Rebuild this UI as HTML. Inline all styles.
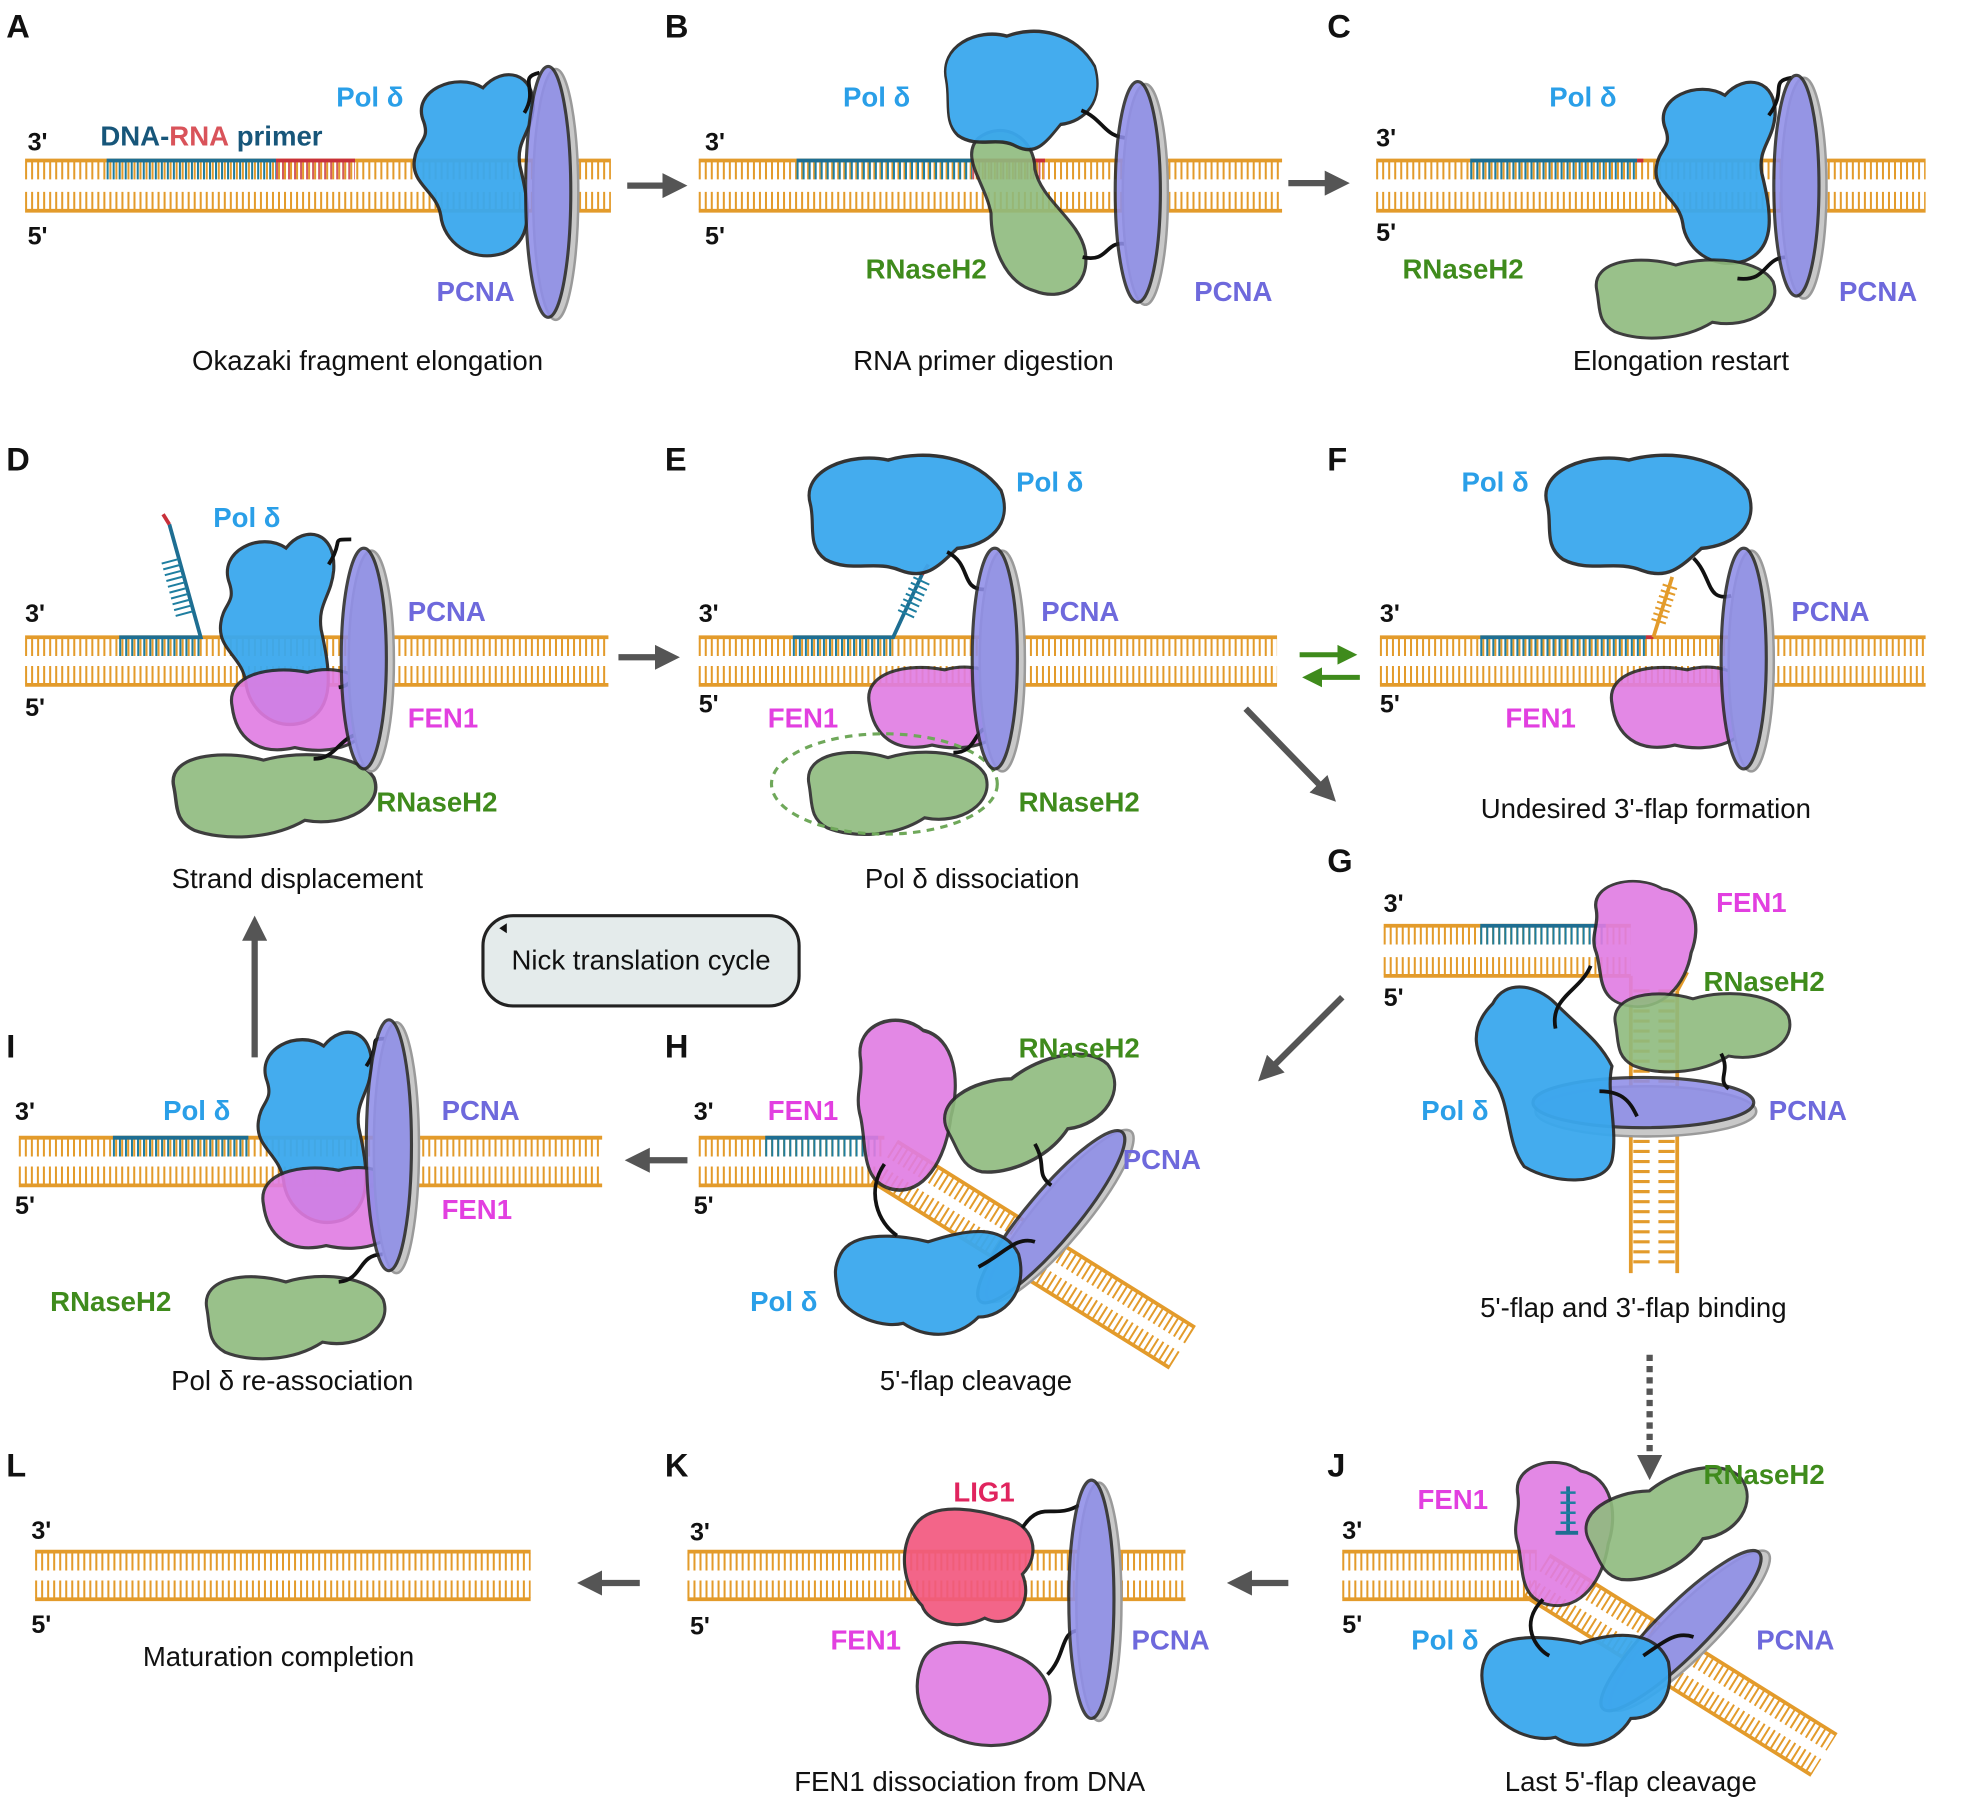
<!DOCTYPE html>
<html><head><meta charset="utf-8"><style>
html,body{margin:0;padding:0;background:#fff}
svg{display:block}
text{font-family:"Liberation Sans",Arial,sans-serif}
.L{font-weight:bold;font-size:26px;fill:#111}
.c{font-size:22px;fill:#111;text-anchor:middle}
.e{font-size:20px;font-weight:bold;fill:#111}
.pol{font-weight:bold;font-size:22px;fill:#2a9fe8}
.pc{font-weight:bold;font-size:22px;fill:#6e69dc}
.fen{font-weight:bold;font-size:22px;fill:#e23fe0}
.rn{font-weight:bold;font-size:22px;fill:#3f8b1c}
.s{stroke:#e39b2b;fill:none;stroke-width:3}
.t{stroke:#e39b2b;fill:none;stroke-width:14;stroke-dasharray:1.6 3.2}
.bs{stroke:#1e6e92;fill:none;stroke-width:3}
.bt{stroke:#1e7ea0;fill:none;stroke-width:14;stroke-dasharray:1.6 3.2}
.rs{stroke:#c8303a;fill:none;stroke-width:3}
.rt{stroke:#d45a5e;fill:none;stroke-width:14;stroke-dasharray:1.6 3.2}
.P{fill:#3aa8ee;stroke:#2a2a2a;stroke-width:2.5;opacity:.95}
.F{fill:#e07ce3;stroke:#2a2a2a;stroke-width:2.5;opacity:.9}
.G{fill:#8fbb7e;stroke:#2a2a2a;stroke-width:2.5;opacity:.9}
.K{fill:#8f8ee8;stroke:#2a2a2a;stroke-width:2.5;opacity:.88}
.KS{fill:#c8c8c8;stroke:#9a9a9a;stroke-width:2}
.tet{stroke:#111;stroke-width:3;fill:none}
.ar{stroke:#555;stroke-width:5;fill:none}
</style></head><body>
<svg width="1967" height="1805" viewBox="0 0 1568 1439" preserveAspectRatio="none" xmlns="http://www.w3.org/2000/svg">
<defs>
<marker id="ah" markerWidth="4" markerHeight="4" refX="2" refY="2" orient="auto" markerUnits="strokeWidth"><path d="M0,0 L4,2 L0,4Z" fill="#555"/></marker>
<marker id="ag" markerWidth="4" markerHeight="4" refX="2" refY="2" orient="auto" markerUnits="strokeWidth"><path d="M0,0 L4,2 L0,4Z" fill="#3f8b1c"/></marker>
<path id="polv" d="M15,45 C5,20 40,5 60,18 C75,0 100,5 98,35 C96,55 85,60 88,80 C95,110 100,140 75,150 C50,158 30,140 28,120 C25,100 5,95 8,75 C10,60 20,60 15,45Z"/>
<path id="polh" d="M8,40 C0,15 40,2 70,8 C100,0 140,5 160,30 C170,55 150,70 125,72 C110,85 100,95 80,88 C60,80 40,90 20,80 C5,70 12,55 8,40Z"/>
<path id="gr" d="M5,35 C0,10 40,5 70,14 C100,5 140,10 150,28 C158,50 130,68 100,62 C75,78 40,78 20,70 C5,62 8,50 5,35Z"/>
<path id="fe" d="M5,35 C0,10 35,2 65,8 C95,0 120,15 118,40 C115,65 85,75 55,68 C25,75 8,60 5,35Z"/>
<path id="fv" d="M10,30 C5,5 40,-5 60,10 C85,15 90,45 82,70 C78,100 60,125 35,120 C10,115 15,90 10,70 C5,55 12,45 10,30Z"/>
</defs>

<!-- ===== A ===== -->
<text class="L" x="5" y="30">A</text>
<path class="t" d="M20,136H487M20,160H487"/><path class="s" d="M20,128H487M20,168H487"/>
<path class="bt" d="M85,136H220"/><path class="bs" d="M85,128H220"/>
<path class="rt" d="M220,136H283"/><path class="rs" d="M220,128H283"/>
<text class="e" x="22" y="120">3'</text><text class="e" x="22" y="195">5'</text>
<text x="80" y="116" style="font-weight:bold;font-size:22px;fill:#17567a">DNA-<tspan fill="#d9535a">RNA</tspan> primer</text>
<use href="#polv" class="P" transform="translate(322,52) scale(1.05,1)"/>
<path class="tet" d="M418,90 C430,70 412,62 430,58"/>
<ellipse class="KS" cx="443" cy="155" rx="18" ry="100"/><ellipse class="K" cx="437" cy="153" rx="18" ry="100"/>
<text class="pol" x="268" y="85">Pol δ</text><text class="pc" x="348" y="240">PCNA</text>
<text class="c" x="293" y="295">Okazaki fragment elongation</text>
<path class="ar" d="M500,148H538" marker-end="url(#ah)"/>

<!-- ===== B ===== -->
<text class="L" x="530" y="30">B</text>
<path class="t" d="M557,136H1022M557,160H1022"/><path class="s" d="M557,128H1022M557,168H1022"/>
<path class="bt" d="M635,136H775"/><path class="bs" d="M635,128H775"/>
<path class="rt" d="M775,136H833"/><path class="rs" d="M775,128H833"/>
<text class="e" x="562" y="120">3'</text><text class="e" x="562" y="195">5'</text>
<path class="G" d="M780,110 C800,95 825,110 825,135 C830,160 860,175 865,200 C870,230 845,240 825,232 C800,225 790,195 790,170 C785,145 765,125 780,110Z"/>
<use href="#polh" class="P" transform="translate(748,20) scale(0.78,1.1)"/>
<path class="tet" d="M862,88 C880,95 880,110 900,110"/><path class="tet" d="M863,205 C885,210 880,190 900,195"/>
<ellipse class="KS" cx="913" cy="155" rx="18" ry="88"/><ellipse class="K" cx="907" cy="153" rx="18" ry="88"/>
<text class="pol" x="672" y="85">Pol δ</text><text class="rn" x="690" y="222">RNaseH2</text><text class="pc" x="952" y="240">PCNA</text>
<text class="c" x="784" y="295">RNA primer digestion</text>
<path class="ar" d="M1027,146H1066" marker-end="url(#ah)"/>

<!-- ===== C ===== -->
<text class="L" x="1058" y="30">C</text>
<path class="t" d="M1097,136H1535M1097,160H1535"/><path class="s" d="M1097,128H1535M1097,168H1535"/>
<path class="bt" d="M1172,136H1305"/><path class="bs" d="M1172,128H1305"/>
<path class="rs" d="M1305,128H1310"/>
<text class="e" x="1097" y="117">3'</text><text class="e" x="1097" y="192">5'</text>
<use href="#polv" class="P" transform="translate(1312,58) scale(1.05,1)"/>
<use href="#gr" class="G" transform="translate(1268,198) scale(0.97,0.95)"/>
<path class="tet" d="M1410,92 C1425,72 1410,65 1428,62"/><path class="tet" d="M1385,222 C1410,225 1405,205 1425,205"/>
<ellipse class="KS" cx="1438" cy="150" rx="18" ry="88"/><ellipse class="K" cx="1432" cy="148" rx="18" ry="88"/>
<text class="pol" x="1235" y="85">Pol δ</text><text class="rn" x="1118" y="222">RNaseH2</text><text class="pc" x="1466" y="240">PCNA</text>
<text class="c" x="1340" y="295">Elongation restart</text>

<!-- ===== D ===== -->
<text class="L" x="5" y="375">D</text>
<path class="t" d="M20,516H485M20,538H485"/><path class="s" d="M20,508H485M20,546H485"/>
<path class="bt" d="M95,516H160"/><path class="bs" d="M95,508H160L135,418"/>
<path d="M147,490L135,445" stroke="#1e7ea0" stroke-width="14" stroke-dasharray="1.6 3.2" fill="none"/>
<path class="rs" d="M135,418L130,410"/>
<text class="e" x="20" y="496">3'</text><text class="e" x="20" y="571">5'</text>
<use href="#polv" class="P" transform="translate(168,418) scale(1,1.05)"/>
<use href="#fe" class="F" transform="translate(180,528)"/>
<use href="#gr" class="G" transform="translate(133,592) scale(1.1,1)"/>
<path class="tet" d="M262,450 C275,430 262,430 280,430"/><path class="tet" d="M270,548 C290,545 275,525 290,525"/><path class="tet" d="M250,605 C270,605 270,585 290,585"/>
<ellipse class="KS" cx="296" cy="527" rx="18" ry="88"/><ellipse class="K" cx="290" cy="525" rx="18" ry="88"/>
<text class="pol" x="170" y="420">Pol δ</text><text class="pc" x="325" y="495">PCNA</text><text class="fen" x="325" y="580">FEN1</text><text class="rn" x="300" y="647">RNaseH2</text>
<text class="c" x="237" y="708">Strand displacement</text>
<path class="ar" d="M493,524H532" marker-end="url(#ah)"/>

<!-- ===== E ===== -->
<text class="L" x="530" y="375">E</text>
<path class="t" d="M557,516H1018M557,538H1018"/><path class="s" d="M557,508H1018M557,546H1018"/>
<path class="bt" d="M632,516H712"/><path class="bs" d="M632,508H712L735,458"/>
<path d="M722,490L735,462" stroke="#1e7ea0" stroke-width="14" stroke-dasharray="1.6 3.2" fill="none"/>
<path class="rs" d="M735,458L740,450"/>
<text class="e" x="557" y="496">3'</text><text class="e" x="557" y="568">5'</text>
<use href="#polh" class="P" transform="translate(638,358) scale(1,1.1)"/>
<use href="#fe" class="F" transform="translate(688,526)"/>
<use href="#gr" class="G" transform="translate(640,590) scale(0.97,1)"/>
<ellipse cx="705" cy="625" rx="90" ry="40" fill="none" stroke="#6fa85a" stroke-width="2.5" stroke-dasharray="6 5"/>
<path class="tet" d="M755,440 C775,450 765,470 785,470"/><path class="tet" d="M785,548 C800,540 790,525 800,520"/><path class="tet" d="M760,600 C780,600 775,580 790,580"/>
<ellipse class="KS" cx="799" cy="527" rx="18" ry="88"/><ellipse class="K" cx="793" cy="525" rx="18" ry="88"/>
<text class="pol" x="810" y="392">Pol δ</text><text class="pc" x="830" y="495">PCNA</text><text class="fen" x="612" y="580">FEN1</text><text class="rn" x="812" y="647">RNaseH2</text>
<text class="c" x="775" y="708">Pol δ dissociation</text>
<path d="M1036,522H1074" stroke="#3f8b1c" stroke-width="4" marker-end="url(#ag)"/>
<path d="M1084,540H1046" stroke="#3f8b1c" stroke-width="4" marker-end="url(#ag)"/>
<path class="ar" d="M993,565L1058,632" marker-end="url(#ah)"/>

<!-- ===== F ===== -->
<text class="L" x="1058" y="375">F</text>
<path class="t" d="M1100,516H1535M1100,538H1535"/><path class="s" d="M1100,508H1535M1100,546H1535"/>
<path class="bt" d="M1180,516H1312"/><path class="bs" d="M1180,508H1312"/><path class="rs" d="M1312,508H1318"/>
<path class="s" d="M1318,508L1333,460"/><path d="M1322,496L1332,465" stroke="#e39b2b" stroke-width="12" stroke-dasharray="1.6 3.2" fill="none"/>
<text class="e" x="1100" y="496">3'</text><text class="e" x="1100" y="568">5'</text>
<use href="#polh" class="P" transform="translate(1225,358) scale(1.05,1.1)"/>
<use href="#fe" class="F" transform="translate(1280,526)"/>
<path class="tet" d="M1350,445 C1365,460 1360,480 1380,475"/><path class="tet" d="M1380,550 C1400,545 1385,525 1400,520"/>
<ellipse class="KS" cx="1396" cy="527" rx="18" ry="88"/><ellipse class="K" cx="1390" cy="525" rx="18" ry="88"/>
<text class="pol" x="1165" y="392">Pol δ</text><text class="pc" x="1428" y="495">PCNA</text><text class="fen" x="1200" y="580">FEN1</text>
<text class="c" x="1312" y="652">Undesired 3'-flap formation</text>

<!-- ===== G ===== -->
<text class="L" x="1058" y="695">G</text>
<path class="t" d="M1103,746H1300M1103,770H1300"/><path class="s" d="M1103,738H1300M1103,778H1300"/>
<path class="bt" d="M1180,746H1280"/><path class="bs" d="M1180,738H1280"/>
<path class="s" d="M1300,778V1015M1337,790V1015M1337,790L1345,775"/>
<g stroke="#e39b2b" stroke-width="2.5"><path d="M1302,790H1315M1302,798H1315M1302,806H1315M1302,814H1315M1302,822H1315M1302,830H1315M1302,838H1315M1302,846H1315M1302,854H1315M1302,862H1315M1302,870H1315M1302,878H1315M1302,886H1315M1302,894H1315M1302,902H1315M1302,910H1315M1302,918H1315M1302,926H1315M1302,934H1315M1302,942H1315M1302,950H1315M1302,958H1315M1302,966H1315M1302,974H1315M1302,982H1315M1302,990H1315M1302,998H1315M1302,1006H1315"/><path d="M1322,790H1335M1322,798H1335M1322,806H1335M1322,814H1335M1322,822H1335M1322,830H1335M1322,838H1335M1322,846H1335M1322,854H1335M1322,862H1335M1322,870H1335M1322,878H1335M1322,886H1335M1322,894H1335M1322,902H1335M1322,910H1335M1322,918H1335M1322,926H1335M1322,934H1335M1322,942H1335M1322,950H1335M1322,958H1335M1322,966H1335M1322,974H1335M1322,982H1335M1322,990H1335M1322,998H1335M1322,1006H1335"/></g>
<text class="e" x="1103" y="727">3'</text><text class="e" x="1103" y="802">5'</text>
<use href="#fv" class="F" transform="translate(1262,700) scale(1.05,0.85)"/>
<use href="#gr" class="G" transform="translate(1283,783) scale(0.95,0.95)"/>
<ellipse class="KS" cx="1312" cy="886" rx="88" ry="20"/><ellipse class="K" cx="1310" cy="879" rx="88" ry="20"/>
<path class="P" d="M1190,800 C1200,780 1225,785 1240,800 C1260,820 1275,830 1285,850 C1280,870 1290,900 1285,925 C1280,945 1240,945 1215,930 C1200,910 1205,880 1190,860 C1175,840 1170,820 1190,800Z"/>
<path class="tet" d="M1240,820 C1235,795 1260,790 1268,770"/><path class="tet" d="M1275,870 C1295,870 1300,880 1305,890"/><path class="tet" d="M1372,840 C1380,855 1368,860 1378,868"/>
<text class="fen" x="1368" y="727">FEN1</text><text class="rn" x="1358" y="790">RNaseH2</text><text class="pol" x="1133" y="893">Pol δ</text><text class="pc" x="1410" y="893">PCNA</text>
<text class="c" x="1302" y="1050">5'-flap and 3'-flap binding</text>
<path class="ar" d="M1070,795L1010,855" marker-end="url(#ah)"/>

<!-- Nick translation -->
<rect x="385" y="730" width="252" height="72" rx="24" fill="#e4ebeb" stroke="#222" stroke-width="2.5"/>
<path d="M398,740 L404,736 L404,744Z" fill="#111"/>
<text x="511" y="773" style="font-size:22px;fill:#111;text-anchor:middle">Nick translation cycle</text>
<path class="ar" d="M203,843V740" marker-end="url(#ah)"/>

<!-- ===== H ===== -->
<text class="L" x="530" y="843">H</text>
<path class="t" d="M557,915H705M557,937H705"/><path class="s" d="M557,907H705M557,945H705"/>
<path class="bt" d="M610,915H700"/><path class="bs" d="M610,907H700"/>
<g transform="translate(705,926) rotate(32)"><path class="t" d="M0,-11H280M0,11H280"/><path class="s" d="M0,-19H280M0,19H280"/></g>
<text class="e" x="553" y="893">3'</text><text class="e" x="553" y="968">5'</text>
<use href="#fv" class="F" transform="translate(676,810) scale(1.0,1.15)"/>
<use href="#gr" class="G" transform="translate(748,842) rotate(-20 70 40) scale(0.95,1.1)"/>
<g transform="rotate(-50 838 970)"><ellipse class="KS" cx="843" cy="975" rx="88" ry="20"/><ellipse class="K" cx="838" cy="970" rx="88" ry="20"/></g>
<path class="P" d="M670,1000 C680,980 720,985 740,990 C770,980 800,975 812,1000 C820,1030 800,1050 780,1050 C760,1070 735,1065 720,1055 C700,1060 670,1045 668,1030 C665,1015 665,1010 670,1000Z"/>
<path class="tet" d="M705,928 C690,950 700,975 715,985"/><path class="tet" d="M825,912 C835,930 825,935 838,945"/><path class="tet" d="M780,1010 C800,1000 810,985 825,990"/>
<text class="fen" x="612" y="893">FEN1</text><text class="rn" x="812" y="843">RNaseH2</text><text class="pc" x="895" y="932">PCNA</text><text class="pol" x="598" y="1045">Pol δ</text>
<text class="c" x="778" y="1108">5'-flap cleavage</text>
<path class="ar" d="M548,925H508" marker-end="url(#ah)"/>

<!-- ===== I ===== -->
<text class="L" x="5" y="843">I</text>
<path class="t" d="M15,915H480M15,937H480"/><path class="s" d="M15,907H480M15,945H480"/>
<path class="bt" d="M90,915H198"/><path class="bs" d="M90,907H198"/>
<text class="e" x="12" y="893">3'</text><text class="e" x="12" y="968">5'</text>
<use href="#polv" class="P" transform="translate(198,815) scale(1,1.05)"/>
<use href="#fe" class="F" transform="translate(205,925)"/>
<use href="#gr" class="G" transform="translate(160,1008) scale(0.97,1)"/>
<path class="tet" d="M292,850 C305,830 292,828 308,828"/><path class="tet" d="M300,945 C320,945 305,928 320,925"/><path class="tet" d="M270,1022 C290,1020 285,1000 305,1000"/>
<ellipse class="KS" cx="316" cy="915" rx="18" ry="100"/><ellipse class="K" cx="310" cy="913" rx="18" ry="100"/>
<text class="pol" x="130" y="893">Pol δ</text><text class="pc" x="352" y="893">PCNA</text><text class="fen" x="352" y="972">FEN1</text><text class="rn" x="40" y="1045">RNaseH2</text>
<text class="c" x="233" y="1108">Pol δ re-association</text>

<!-- ===== J ===== -->
<text class="L" x="1058" y="1177">J</text>
<path d="M1315,1080V1170" stroke="#555" stroke-width="5" stroke-dasharray="5 4" marker-end="url(#ah)"/>
<path class="t" d="M1070,1245H1225M1070,1267H1225"/><path class="s" d="M1070,1237H1225M1070,1275H1225"/>
<g transform="translate(1225,1256) rotate(32)"><path class="t" d="M0,-11H270M0,11H270"/><path class="s" d="M0,-19H270M0,19H270"/></g>
<text class="e" x="1070" y="1227">3'</text><text class="e" x="1070" y="1302">5'</text>
<use href="#fv" class="F" transform="translate(1200,1163) scale(1.0,0.97)"/>
<path class="bs" d="M1240,1222H1258M1250,1185V1222"/><path d="M1244,1190H1256M1244,1198H1256M1244,1206H1256M1244,1214H1256" stroke="#1e7ea0" stroke-width="2"/>
<use href="#gr" class="G" transform="translate(1260,1170) rotate(-20 70 40) scale(0.9,1.05)"/>
<g transform="rotate(-45 1340 1300)"><ellipse class="KS" cx="1345" cy="1305" rx="88" ry="20"/><ellipse class="K" cx="1340" cy="1300" rx="88" ry="20"/></g>
<path class="P" d="M1185,1320 C1195,1300 1240,1305 1260,1310 C1290,1300 1320,1300 1330,1325 C1335,1355 1320,1370 1300,1370 C1285,1395 1255,1395 1240,1385 C1220,1390 1190,1375 1185,1355 C1180,1340 1180,1330 1185,1320Z"/>
<path class="tet" d="M1230,1275 C1210,1295 1225,1315 1235,1320"/><path class="tet" d="M1310,1320 C1325,1310 1335,1300 1350,1305"/>
<text class="fen" x="1130" y="1203">FEN1</text><text class="rn" x="1358" y="1183">RNaseH2</text><text class="pol" x="1125" y="1315">Pol δ</text><text class="pc" x="1400" y="1315">PCNA</text>
<text class="c" x="1300" y="1428">Last 5'-flap cleavage</text>
<path class="ar" d="M1027,1262H988" marker-end="url(#ah)"/>

<!-- ===== K ===== -->
<text class="L" x="530" y="1177">K</text>
<path class="t" d="M548,1245H945M548,1267H945"/><path class="s" d="M548,1237H945M548,1275H945"/>
<text class="e" x="550" y="1228">3'</text><text class="e" x="550" y="1303">5'</text>
<path d="M730,1215 C745,1195 785,1205 800,1210 C825,1215 830,1240 815,1255 C825,1280 805,1300 785,1290 C765,1300 740,1295 735,1280 C720,1265 715,1235 730,1215Z" fill="#f2587f" stroke="#2a2a2a" stroke-width="2.5" opacity=".92"/>
<path class="F" d="M735,1325 C745,1300 790,1310 810,1320 C835,1330 845,1355 830,1375 C815,1395 780,1395 760,1385 C735,1378 725,1350 735,1325Z"/>
<path class="tet" d="M815,1218 C830,1195 840,1212 860,1200"/><path class="tet" d="M835,1335 C850,1320 845,1300 860,1300"/>
<ellipse class="KS" cx="876" cy="1277" rx="18" ry="95"/><ellipse class="K" cx="870" cy="1275" rx="18" ry="95"/>
<text x="760" y="1197" style="font-weight:bold;font-size:22px;fill:#e0245e">LIG1</text>
<text class="fen" x="662" y="1315">FEN1</text><text class="pc" x="902" y="1315">PCNA</text>
<text class="c" x="773" y="1428">FEN1 dissociation from DNA</text>
<path class="ar" d="M510,1262H470" marker-end="url(#ah)"/>

<!-- ===== L ===== -->
<text class="L" x="5" y="1177">L</text>
<path class="t" d="M28,1245H423M28,1267H423"/><path class="s" d="M28,1237H423M28,1275H423"/>
<text class="e" x="25" y="1227">3'</text><text class="e" x="25" y="1302">5'</text>
<text class="c" x="222" y="1328">Maturation completion</text>
</svg>
</body></html>
